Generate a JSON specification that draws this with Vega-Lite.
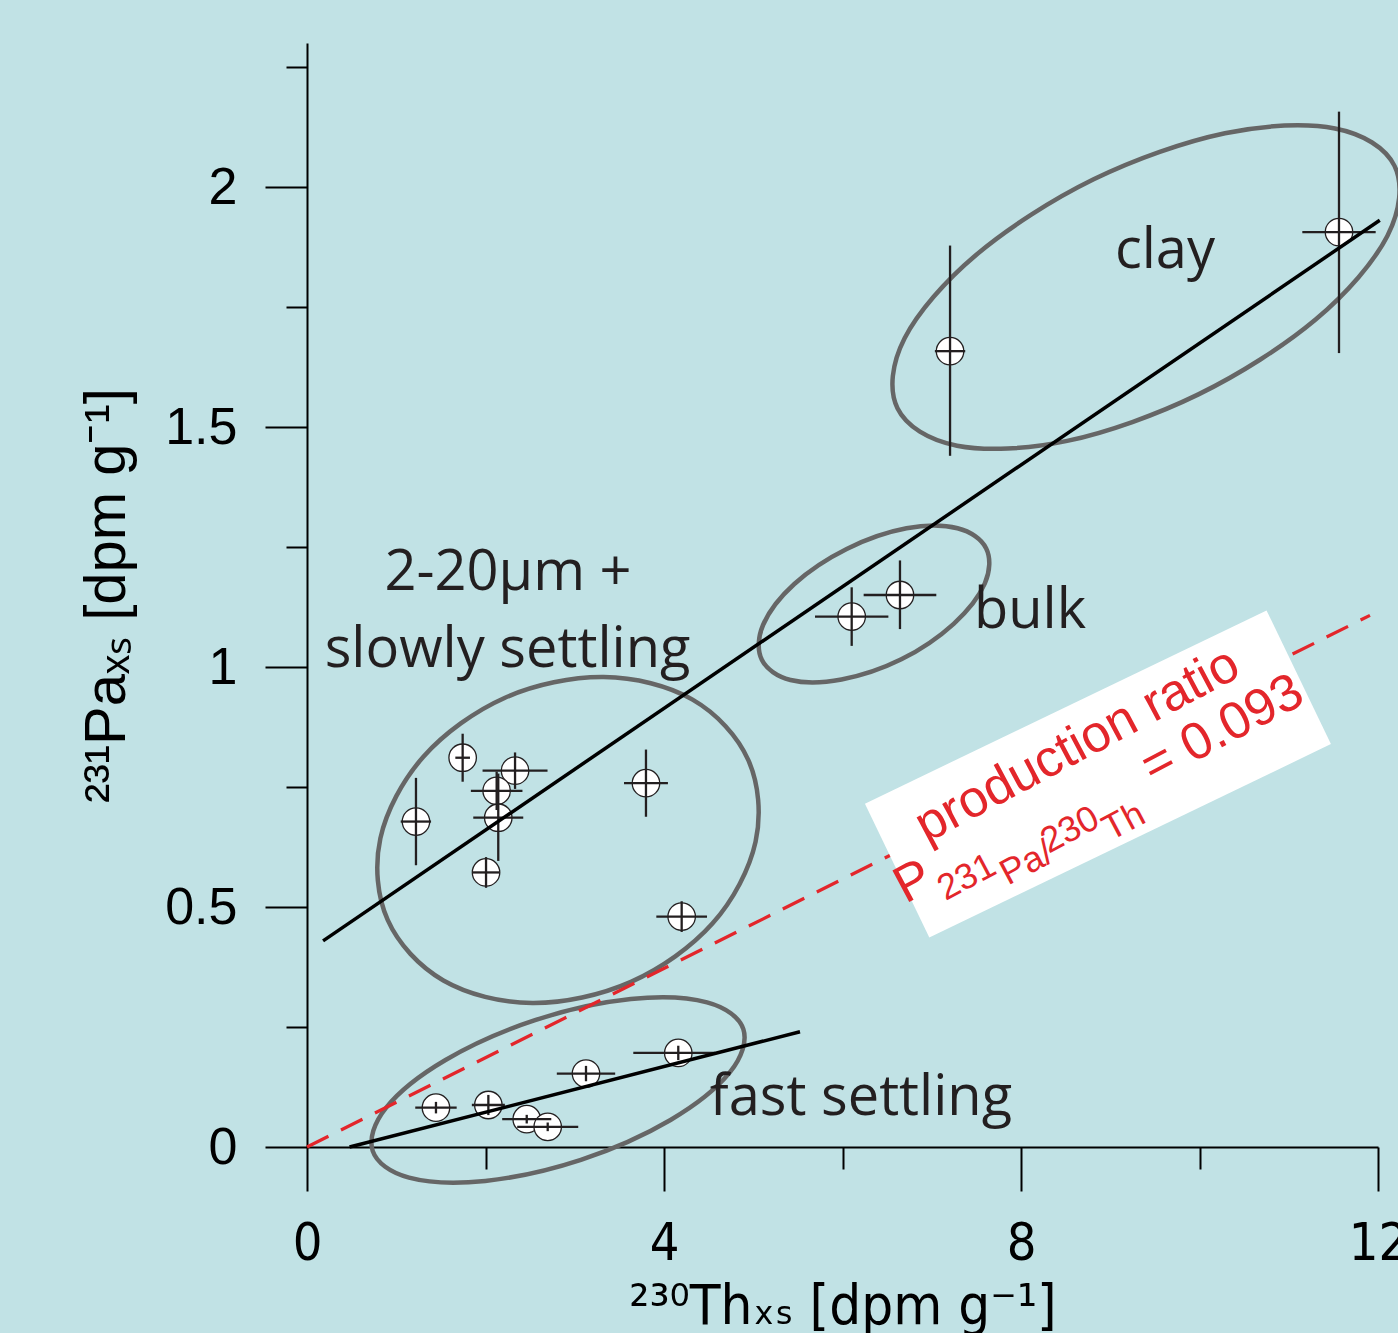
{
  "$schema": "https://vega.github.io/schema/vega-lite/v6.json",
  "width": 1071,
  "height": 1104,
  "autosize": {"type": "none"},
  "padding": {"left": 307, "top": 43, "right": 20, "bottom": 186},
  "background": "#c1e2e5",
  "config": {
    "view": {"stroke": null},
    "axis": {"grid": false, "domainColor": "#000000", "tickColor": "#000000", "labelColor": "#000000", "titleColor": "#000000", "domainWidth": 2, "tickWidth": 2, "labelOverlap": false, "labelBound": false, "labelFlush": false}
  },
  "datasets": {
    "ellipses": [
      {"e": "clay", "i": 0, "x": 12.185, "y": 2.044}, {"e": "clay", "i": 1, "x": 11.518, "y": 2.122}, {"e": "clay", "i": 2, "x": 10.285, "y": 2.112}, {"e": "clay", "i": 3, "x": 8.814, "y": 2.016}, {"e": "clay", "i": 4, "x": 7.5, "y": 1.859}, {"e": "clay", "i": 5, "x": 6.696, "y": 1.685}, {"e": "clay", "i": 6, "x": 6.616, "y": 1.539}, {"e": "clay", "i": 7, "x": 7.283, "y": 1.461}, {"e": "clay", "i": 8, "x": 8.517, "y": 1.471}, {"e": "clay", "i": 9, "x": 9.988, "y": 1.568}, {"e": "clay", "i": 10, "x": 11.301, "y": 1.724}, {"e": "clay", "i": 11, "x": 12.105, "y": 1.898},
      {"e": "bulk", "i": 0, "x": 7.61, "y": 1.247}, {"e": "bulk", "i": 1, "x": 7.289, "y": 1.289}, {"e": "bulk", "i": 2, "x": 6.717, "y": 1.289}, {"e": "bulk", "i": 3, "x": 6.047, "y": 1.246}, {"e": "bulk", "i": 4, "x": 5.46, "y": 1.173}, {"e": "bulk", "i": 5, "x": 5.111, "y": 1.088}, {"e": "bulk", "i": 6, "x": 5.096, "y": 1.015}, {"e": "bulk", "i": 7, "x": 5.417, "y": 0.973}, {"e": "bulk", "i": 8, "x": 5.989, "y": 0.974}, {"e": "bulk", "i": 9, "x": 6.659, "y": 1.016}, {"e": "bulk", "i": 10, "x": 7.246, "y": 1.09}, {"e": "bulk", "i": 11, "x": 7.595, "y": 1.174},
      {"e": "slow", "i": 0, "x": 4.945, "y": 0.806}, {"e": "slow", "i": 1, "x": 4.32, "y": 0.932}, {"e": "slow", "i": 2, "x": 3.324, "y": 0.979}, {"e": "slow", "i": 3, "x": 2.219, "y": 0.936}, {"e": "slow", "i": 4, "x": 1.304, "y": 0.813}, {"e": "slow", "i": 5, "x": 0.822, "y": 0.643}, {"e": "slow", "i": 6, "x": 0.904, "y": 0.473}, {"e": "slow", "i": 7, "x": 1.528, "y": 0.347}, {"e": "slow", "i": 8, "x": 2.525, "y": 0.3}, {"e": "slow", "i": 9, "x": 3.63, "y": 0.344}, {"e": "slow", "i": 10, "x": 4.545, "y": 0.466}, {"e": "slow", "i": 11, "x": 5.026, "y": 0.636},
      {"e": "fast", "i": 0, "x": 4.889, "y": 0.2456}, {"e": "fast", "i": 1, "x": 4.482, "y": 0.3013}, {"e": "fast", "i": 2, "x": 3.628, "y": 0.3081}, {"e": "fast", "i": 3, "x": 2.555, "y": 0.2642}, {"e": "fast", "i": 4, "x": 1.552, "y": 0.1813}, {"e": "fast", "i": 5, "x": 0.885, "y": 0.0817}, {"e": "fast", "i": 6, "x": 0.736, "y": -0.0081}, {"e": "fast", "i": 7, "x": 1.143, "y": -0.0638}, {"e": "fast", "i": 8, "x": 1.997, "y": -0.0706}, {"e": "fast", "i": 9, "x": 3.069, "y": -0.0267}, {"e": "fast", "i": 10, "x": 4.073, "y": 0.0563}, {"e": "fast", "i": 11, "x": 4.739, "y": 0.1558}
    ],
    "points": [
      {"group": "clay", "x": 7.205, "y": 1.658, "xlo": 7.035, "xhi": 7.375, "ylo": 1.44, "yhi": 1.878},
      {"group": "clay", "x": 11.563, "y": 1.906, "xlo": 11.152, "xhi": 11.974, "ylo": 1.654, "yhi": 2.157},
      {"group": "bulk", "x": 6.103, "y": 1.105, "xlo": 5.692, "xhi": 6.514, "ylo": 1.044, "yhi": 1.166},
      {"group": "bulk", "x": 6.644, "y": 1.15, "xlo": 6.237, "xhi": 7.051, "ylo": 1.079, "yhi": 1.222},
      {"group": "slow", "x": 1.221, "y": 0.678, "xlo": 1.05, "xhi": 1.39, "ylo": 0.587, "yhi": 0.769},
      {"group": "slow", "x": 1.744, "y": 0.811, "xlo": 1.662, "xhi": 1.826, "ylo": 0.761, "yhi": 0.861},
      {"group": "slow", "x": 2.331, "y": 0.784, "xlo": 1.967, "xhi": 2.695, "ylo": 0.746, "yhi": 0.822},
      {"group": "slow", "x": 2.125, "y": 0.742, "xlo": 1.836, "xhi": 2.414, "ylo": 0.702, "yhi": 0.782},
      {"group": "slow", "x": 2.143, "y": 0.686, "xlo": 1.863, "xhi": 2.423, "ylo": 0.596, "yhi": 0.778},
      {"group": "slow", "x": 2.006, "y": 0.572, "xlo": 1.856, "xhi": 2.156, "ylo": 0.54, "yhi": 0.604},
      {"group": "slow", "x": 3.798, "y": 0.758, "xlo": 3.552, "xhi": 4.044, "ylo": 0.688, "yhi": 0.828},
      {"group": "slow", "x": 4.198, "y": 0.48, "xlo": 3.914, "xhi": 4.482, "ylo": 0.448, "yhi": 0.512},
      {"group": "fast", "x": 1.445, "y": 0.082, "xlo": 1.213, "xhi": 1.677, "ylo": 0.07, "yhi": 0.094},
      {"group": "fast", "x": 2.032, "y": 0.0875, "xlo": 1.847, "xhi": 2.217, "ylo": 0.0665, "yhi": 0.1085},
      {"group": "fast", "x": 2.462, "y": 0.058, "xlo": 2.187, "xhi": 2.737, "ylo": 0.049, "yhi": 0.067},
      {"group": "fast", "x": 2.697, "y": 0.042, "xlo": 2.355, "xhi": 3.039, "ylo": 0.033, "yhi": 0.051},
      {"group": "fast", "x": 3.126, "y": 0.153, "xlo": 2.799, "xhi": 3.453, "ylo": 0.137, "yhi": 0.169},
      {"group": "fast", "x": 4.16, "y": 0.196, "xlo": 3.656, "xhi": 4.571, "ylo": 0.181, "yhi": 0.211}
    ],
    "fits": [
      {"line": "all", "i": 0, "x": 0.18, "y": 0.4294}, {"line": "all", "i": 1, "x": 12.02, "y": 1.9307},
      {"line": "fast", "i": 0, "x": 0.477, "y": 0}, {"line": "fast", "i": 1, "x": 5.524, "y": 0.2402}
    ],
    "production": [
      {"x": 0, "y": 0}, {"x": 11.91, "y": 1.1076}
    ],
    "box": [{"x": 8.862, "y": 0.7773}],
    "redBig": [
      {"text": "production ratio", "x": 8.631, "y": 0.8375},
      {"text": "P", "x": 6.793, "y": 0.5527},
      {"text": "= 0.093", "x": 10.255, "y": 0.8708}
    ],
    "redSmall": [
      {"text": "231", "x": 7.392, "y": 0.5619},
      {"text": "Pa/", "x": 8.064, "y": 0.591},
      {"text": "230", "x": 8.549, "y": 0.6604},
      {"text": "Th", "x": 9.154, "y": 0.6777}
    ],
    "labels": [
      {"text": "clay", "x": 9.613, "y": 1.831},
      {"text": "bulk", "x": 8.101, "y": 1.0806},
      {"text": "2-20µm +", "x": 2.252, "y": 1.1604},
      {"text": "slowly settling", "x": 2.247, "y": 1.0006},
      {"text": "fast settling", "x": 6.207, "y": 0.0667}
    ],
    "dummy": [{"x": 0, "y": 0}]
  },
  "resolve": {"axis": {"x": "independent", "y": "independent"}},
  "layer": [
    {
      "layer": [
        {
          "data": {"name": "ellipses"},
          "mark": {"type": "line", "interpolate": "cardinal-closed", "stroke": "#666666", "strokeWidth": 4.5},
          "encoding": {
            "x": {"field": "x", "type": "quantitative", "scale": {"domain": [0, 12], "nice": false, "zero": false},
              "axis": {"orient": "bottom", "values": [0, 4, 8, 12], "format": "d", "tickSize": 44, "labelFont": "DejaVu Sans Condensed, Liberation Sans", "labelFontSize": 52, "labelPadding": 27, "title": "²³⁰Thₓₛ [dpm g⁻¹]", "titleFont": "DejaVu Sans Condensed, DejaVu Sans", "titleFontSize": 56, "titleFontWeight": "normal", "titlePadding": 10}},
            "y": {"field": "y", "type": "quantitative", "scale": {"domain": [0, 2.3], "nice": false, "zero": false},
              "axis": {"orient": "left", "values": [0, 0.5, 1, 1.5, 2], "format": "~g", "tickSize": 42, "labelFont": "Liberation Sans", "labelFontSize": 52, "labelPadding": 28, "title": "²³¹Paₓₛ [dpm g⁻¹]", "titleFont": "Liberation Sans", "titleFontSize": 58, "titleFontWeight": "normal", "titlePadding": 28}},
            "detail": {"field": "e"},
            "order": {"field": "i", "type": "quantitative"}
          }
        },
        {
          "data": {"name": "production"},
          "mark": {"type": "line", "stroke": "#e3262b", "strokeWidth": 3.2, "strokeDash": [24, 14]},
          "encoding": {
            "x": {"field": "x", "type": "quantitative"},
            "y": {"field": "y", "type": "quantitative"}
          }
        },
        {
          "data": {"name": "box"},
          "mark": {"type": "point", "shape": "M-1,-0.333L1,-0.333L1,0.333L-1,0.333Z", "size": 198648, "angle": 334.3, "filled": true, "fill": "#ffffff", "opacity": 1, "strokeWidth": 0},
          "encoding": {
            "x": {"field": "x", "type": "quantitative"},
            "y": {"field": "y", "type": "quantitative"}
          }
        },
        {
          "data": {"name": "redBig"},
          "mark": {"type": "text", "font": "Liberation Sans", "fontSize": 52, "color": "#e3262b", "angle": 332, "align": "center", "baseline": "middle"},
          "encoding": {
            "x": {"field": "x", "type": "quantitative"},
            "y": {"field": "y", "type": "quantitative"},
            "text": {"field": "text"}
          }
        },
        {
          "data": {"name": "redSmall"},
          "mark": {"type": "text", "font": "Liberation Sans", "fontSize": 36, "color": "#e3262b", "angle": 332, "align": "center", "baseline": "middle"},
          "encoding": {
            "x": {"field": "x", "type": "quantitative"},
            "y": {"field": "y", "type": "quantitative"},
            "text": {"field": "text"}
          }
        },
        {
          "data": {"name": "points"},
          "mark": {"type": "point", "shape": "circle", "size": 755, "filled": true, "fill": "#ffffff", "stroke": "#231f20", "strokeWidth": 1.3, "opacity": 1},
          "encoding": {
            "x": {"field": "x", "type": "quantitative"},
            "y": {"field": "y", "type": "quantitative"}
          }
        },
        {
          "data": {"name": "points"},
          "mark": {"type": "rule", "color": "#231f20", "strokeWidth": 2.3},
          "encoding": {
            "x": {"field": "xlo", "type": "quantitative"},
            "x2": {"field": "xhi"},
            "y": {"field": "y", "type": "quantitative"}
          }
        },
        {
          "data": {"name": "points"},
          "mark": {"type": "rule", "color": "#231f20", "strokeWidth": 2.3},
          "encoding": {
            "x": {"field": "x", "type": "quantitative"},
            "y": {"field": "ylo", "type": "quantitative"},
            "y2": {"field": "yhi"}
          }
        },
        {
          "data": {"name": "fits"},
          "mark": {"type": "line", "stroke": "#000000", "strokeWidth": 3.5},
          "encoding": {
            "x": {"field": "x", "type": "quantitative"},
            "y": {"field": "y", "type": "quantitative"},
            "detail": {"field": "line"},
            "order": {"field": "i", "type": "quantitative"}
          }
        },
        {
          "data": {"name": "labels"},
          "mark": {"type": "text", "font": "Open Sans", "fontSize": 56, "color": "#231f20", "align": "center", "baseline": "alphabetic"},
          "encoding": {
            "x": {"field": "x", "type": "quantitative"},
            "y": {"field": "y", "type": "quantitative"},
            "text": {"field": "text"}
          }
        }
      ]
    },
    {
      "data": {"name": "dummy"},
      "mark": {"type": "point", "opacity": 0},
      "encoding": {
        "x": {"field": "x", "type": "quantitative", "scale": {"domain": [0, 12], "nice": false, "zero": false},
          "axis": {"orient": "bottom", "values": [2, 6, 10], "tickSize": 22, "labels": false, "domain": false, "title": null}},
        "y": {"field": "y", "type": "quantitative", "scale": {"domain": [0, 2.3], "nice": false, "zero": false},
          "axis": {"orient": "left", "values": [0.25, 0.75, 1.25, 1.75, 2.25], "tickSize": 21, "labels": false, "domain": false, "title": null}}
      }
    }
  ]
}
